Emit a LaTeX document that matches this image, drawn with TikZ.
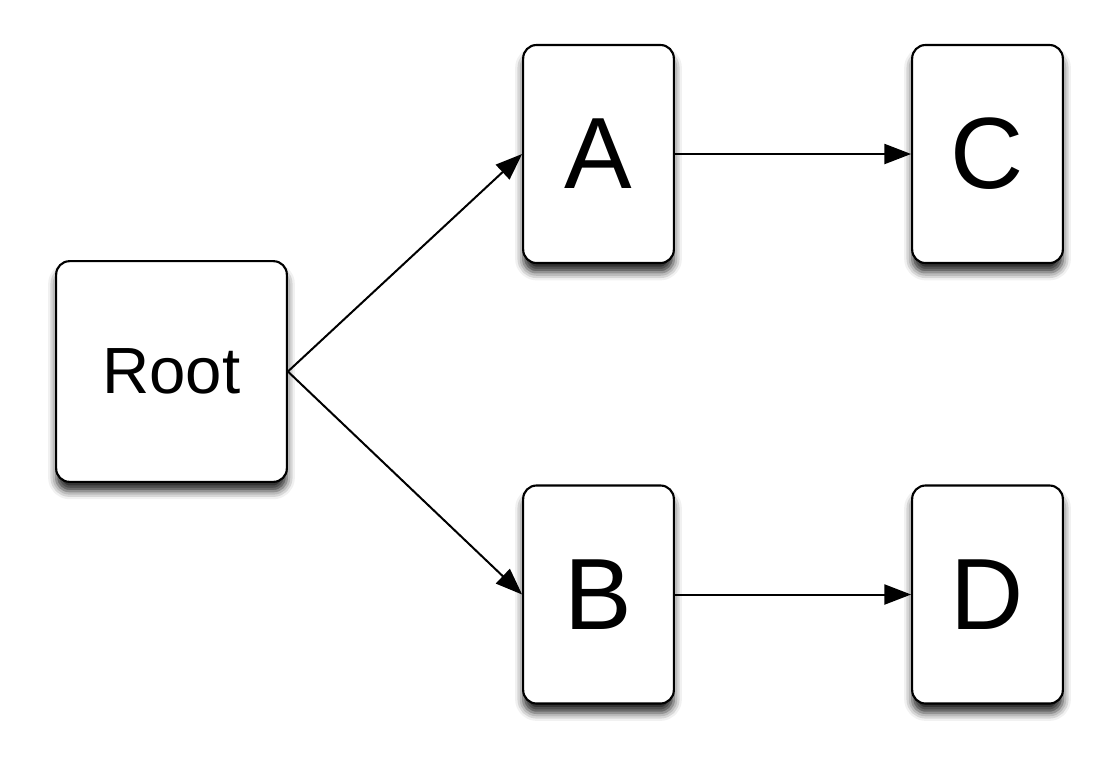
\documentclass[tikz,border=0pt]{standalone}
\usepackage{fontspec}
\setmainfont{Liberation Sans}
\usetikzlibrary{arrows.meta,shadows.blur}
\begin{document}
\begin{tikzpicture}[x=0.75pt, y=-0.75pt, line width=1.6pt,
  box/.style={draw, fill=white, rounded corners=10pt, inner sep=0pt,
    minimum width=113pt, minimum height=163.5pt,
    blur shadow={shadow xshift=0pt, shadow yshift=-7pt, shadow blur radius=6pt, shadow opacity=85},
    font=\fontsize{76}{90}\selectfont},
  rootbox/.style={box, minimum width=173pt, minimum height=165.5pt,
    font=\fontsize{49}{58}\selectfont},
  link/.style={line width=1.5pt, -{Triangle[length=20pt,width=15pt]}}]
  \useasboundingbox (0,0) rectangle (1116,769);
  % 왼쪽 뿌리, 가운데 열 A/B, 오른쪽 열 C/D (픽셀 좌표)
  \node[rootbox] (root) at (171.5,371.5) {Root};
  \node[box] (a) at (598.5,154) {A};
  \node[box] (b) at (598.5,594.5) {B};
  \node[box] (c) at (987.5,154) {C};
  \node[box] (d) at (987.5,594.5) {D};
  \draw[link] (root.east) -- (a.west);
  \draw[link] (root.east) -- (b.west);
  \draw[link] (a) -- (c);
  \draw[link] (b) -- (d);
\end{tikzpicture}
\end{document}
